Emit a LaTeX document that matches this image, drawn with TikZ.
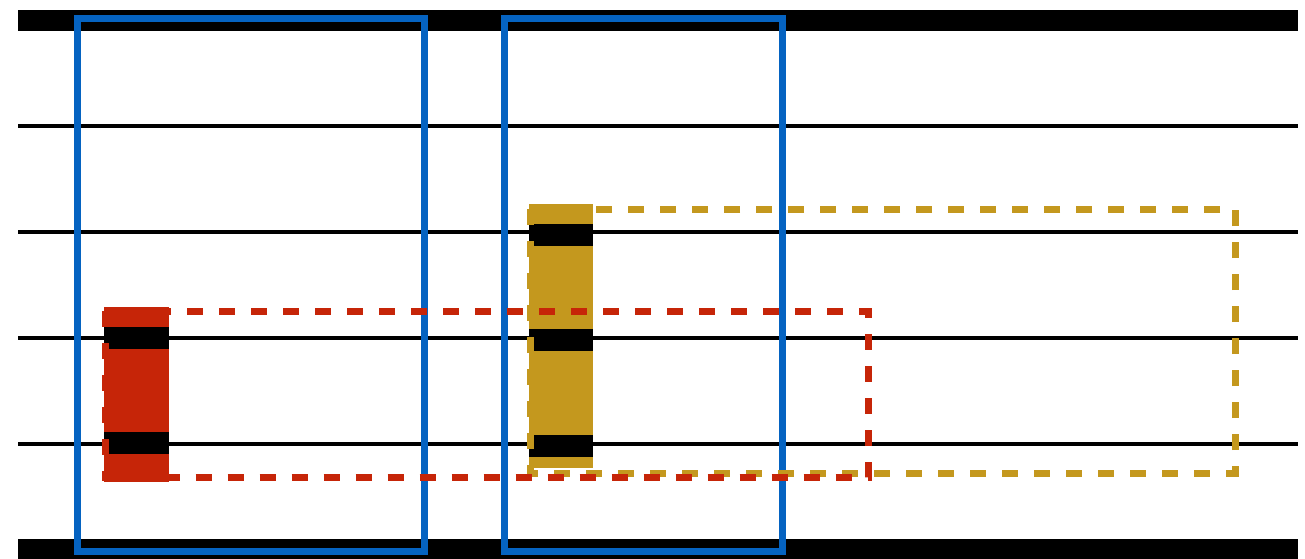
\documentclass[tikz,border=0pt]{standalone}
\definecolor{myblue}{RGB}{5,99,193}
\definecolor{myred}{RGB}{198,37,8}
\definecolor{mygold}{RGB}{196,152,30}
\tikzset{
  thickrule/.style={line width=21pt,black},
  thinrule/.style={line width=4.5pt,black},
  frame/.style={line width=7pt,myblue},
  blockred/.style={fill=myred},
  blockgold/.style={fill=mygold},
  bar/.style={fill=black},
  dashred/.style={draw=myred,line width=7pt,dash pattern=on 16pt off 16pt},
  dashgold/.style={draw=mygold,line width=7pt,dash pattern=on 16pt off 16pt},
}
\begin{document}
\begin{tikzpicture}[x=1pt,y=-1pt]
\useasboundingbox (0,0) rectangle (1305,558);
% rules
\coordinate (t0) at (18,20.5); \coordinate (t1) at (1298,20.5);
\draw[thickrule] (t0) -- (t1);
\foreach \yy/\nm in {126/a,232/b,338/c,444/d}{
  \coordinate (l\nm0) at (18,\yy); \coordinate (l\nm1) at (1298,\yy);
  \draw[thinrule] (l\nm0) -- (l\nm1);
}
\coordinate (b0) at (18,549); \coordinate (b1) at (1298,549);
\draw[thickrule] (b0) -- (b1);
% blue frames
\draw[frame] (77,18.5) rectangle (424,551);
\draw[frame] (504,18.5) rectangle (782,551);
% gold block
\node[blockgold,inner sep=0pt,minimum width=64pt,minimum height=264pt,anchor=north west] (gb) at (529,204) {};
\foreach \yy in {224,329,435}{\fill[bar] (529,\yy) rectangle (593,\yy+22);}
\draw[dashgold] (530,209) rectangle (1235,473);
% red block
\node[blockred,inner sep=0pt,minimum width=65pt,minimum height=175pt,anchor=north west] (rb) at (104,307) {};
\foreach \yy in {327,432}{\fill[bar] (104,\yy) rectangle (169,\yy+22);}
\draw[dashred] (105.5,311) rectangle (868,477);
\end{tikzpicture}
\end{document}
